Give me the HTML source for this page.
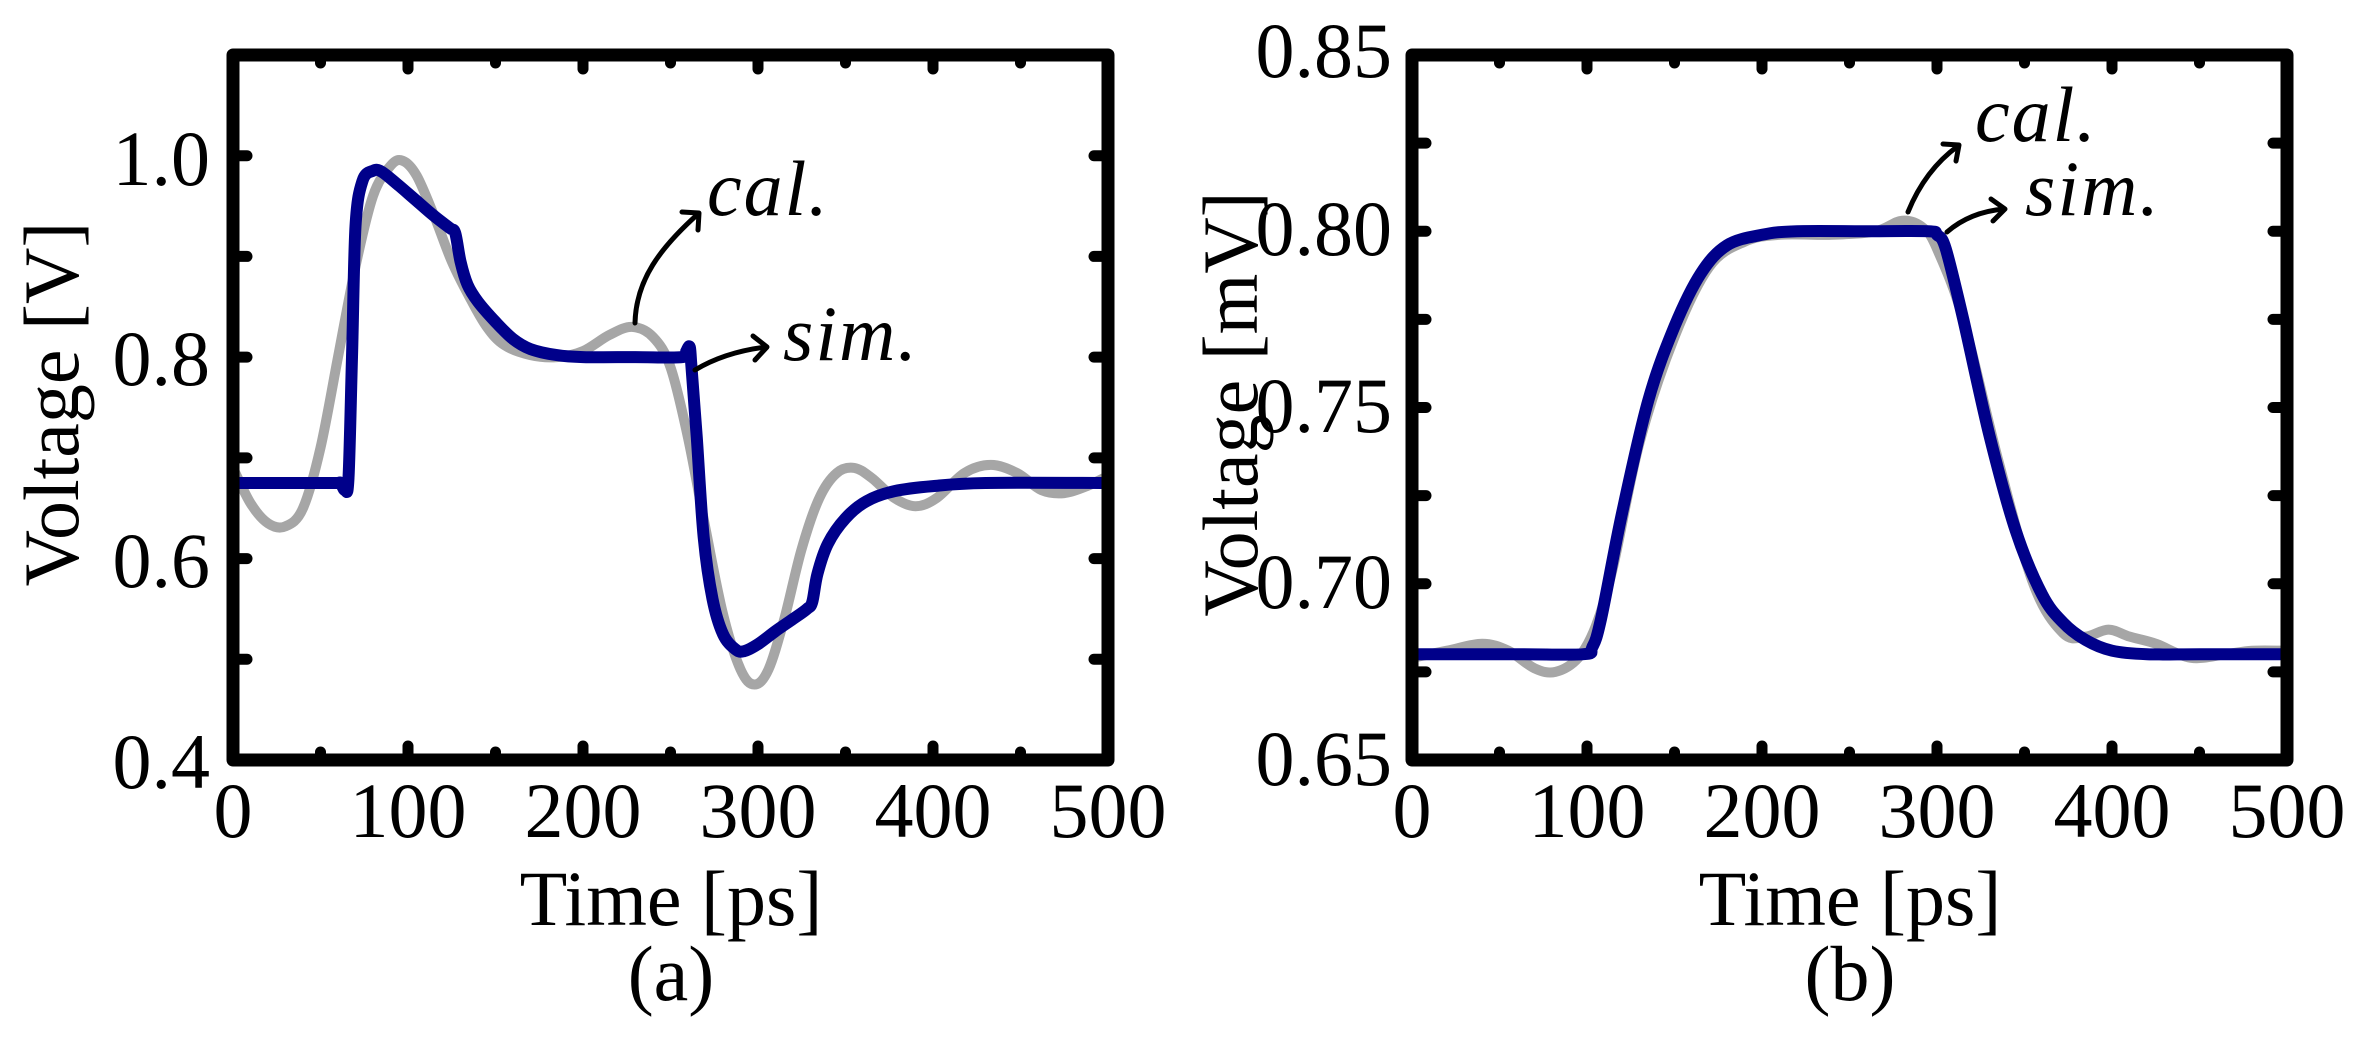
<!DOCTYPE html>
<html><head><meta charset="utf-8">
<style>
html,body{margin:0;padding:0;background:#fff;}
svg{display:block;}
text{font-family:"Liberation Serif","Times New Roman",serif;fill:#000;}
.it{font-family:"Liberation Serif",serif;font-style:italic;}
</style></head>
<body>
<svg id="s" width="2365" height="1052" viewBox="0 0 2365 1052" xmlns="http://www.w3.org/2000/svg">
<g id="g"></g>
<g font-size="78">
<text x="210" y="185" text-anchor="end">1.0</text>
<text x="210" y="385" text-anchor="end">0.8</text>
<text x="210" y="587" text-anchor="end">0.6</text>
<text x="210" y="788" text-anchor="end">0.4</text>
<text x="233" y="837" text-anchor="middle">0</text>
<text x="408" y="837" text-anchor="middle">100</text>
<text x="583" y="837" text-anchor="middle">200</text>
<text x="758" y="837" text-anchor="middle">300</text>
<text x="933" y="837" text-anchor="middle">400</text>
<text x="1108" y="837" text-anchor="middle">500</text>
<text x="671" y="925" text-anchor="middle">Time [ps]</text>
<text x="671" y="1000" text-anchor="middle">(a)</text>
<text transform="translate(78,404) rotate(-90)" text-anchor="middle">Voltage [V]</text>
<text class="it" x="707" y="215" letter-spacing="2">cal.</text>
<text class="it" x="783" y="360" letter-spacing="2">sim.</text>
</g>
<g font-size="78">
<text x="1392" y="77" text-anchor="end">0.85</text>
<text x="1392" y="255" text-anchor="end">0.80</text>
<text x="1392" y="432" text-anchor="end">0.75</text>
<text x="1392" y="608" text-anchor="end">0.70</text>
<text x="1392" y="785" text-anchor="end">0.65</text>
<text x="1412" y="837" text-anchor="middle">0</text>
<text x="1587" y="837" text-anchor="middle">100</text>
<text x="1762" y="837" text-anchor="middle">200</text>
<text x="1937" y="837" text-anchor="middle">300</text>
<text x="2112" y="837" text-anchor="middle">400</text>
<text x="2287" y="837" text-anchor="middle">500</text>
<text x="1850" y="925" text-anchor="middle">Time [ps]</text>
<text x="1850" y="1000" text-anchor="middle">(b)</text>
<text transform="translate(1257,404) rotate(-90)" text-anchor="middle">Voltage [mV]</text>
<text class="it" x="1975" y="141" letter-spacing="2">cal.</text>
<text class="it" x="2025" y="215" letter-spacing="2">sim.</text>
</g>
<g fill="none" stroke="#000" stroke-width="5" stroke-linecap="round" stroke-linejoin="round">
<path d="M635,323 C636,280 660,248 698,214"/>
<path d="M682,212 L699,213 L698,230"/>
<path d="M695,370 Q725,352 766,347"/>
<path d="M753,336 L767,347 L755,360"/>
<path d="M1908,212 Q1925,170 1958,146"/>
<path d="M1943,144 L1959,145 L1956,161"/>
<path d="M1947,232 Q1970,212 2004,209"/>
<path d="M1991,199 L2005,209 L1993,221"/>
</g>
</svg>
<script>
(function(){
var g=document.getElementById('g'),NS='http://www.w3.org/2000/svg';
function el(t,a){var e=document.createElementNS(NS,t);for(var k in a)e.setAttribute(k,a[k]);g.appendChild(e);return e;}
function cr(pts){var d='M'+pts[0][0].toFixed(1)+','+pts[0][1].toFixed(1);
for(var i=0;i<pts.length-1;i++){var p0=pts[i-1]||pts[i],p1=pts[i],p2=pts[i+1],p3=pts[i+2]||p2;
var c1x=p1[0]+(p2[0]-p0[0])/6,c1y=p1[1]+(p2[1]-p0[1])/6,c2x=p2[0]-(p3[0]-p1[0])/6,c2y=p2[1]-(p3[1]-p1[1])/6;
d+=' C'+c1x.toFixed(1)+','+c1y.toFixed(1)+' '+c2x.toFixed(1)+','+c2y.toFixed(1)+' '+p2[0].toFixed(1)+','+p2[1].toFixed(1);}return d;}
function panel(L,T,R,B,vmin,vmax,ystep,cal,sim){
 var W=R-L,H=B-T;
 function X(t){return L+t/500*W;} function Y(v){return B-(v-vmin)/(vmax-vmin)*H;}
 var clip='c'+L;
 var cp=el('clipPath',{id:clip});var r=document.createElementNS(NS,'rect');r.setAttribute('x',L);r.setAttribute('y',T);r.setAttribute('width',W);r.setAttribute('height',H);cp.appendChild(r);
 el('path',{d:cr(cal.map(function(p){return[X(p[0]),Y(p[1])]})),fill:'none',stroke:'#a6a6a6','stroke-width':10,'clip-path':'url(#'+clip+')','stroke-linejoin':'round'});
 el('path',{d:cr(sim.map(function(p){return[X(p[0]),Y(p[1])]})),fill:'none',stroke:'#00008a','stroke-width':12,'clip-path':'url(#'+clip+')','stroke-linejoin':'round'});
 for(var t=50;t<500;t+=50){var x=X(t),h=(t%100==0)?14:8;
  el('line',{x1:x,y1:B,x2:x,y2:B-h,stroke:'#000','stroke-width':11,'stroke-linecap':'round'});
  el('line',{x1:x,y1:T,x2:x,y2:T+h,stroke:'#000','stroke-width':11,'stroke-linecap':'round'});}
 var n=Math.round((vmax-vmin)/ystep);
 for(var i=1;i<n;i++){var y=B-i*H/n,h=14;
  el('line',{x1:L,y1:y,x2:L+h,y2:y,stroke:'#000','stroke-width':11,'stroke-linecap':'round'});
  el('line',{x1:R,y1:y,x2:R-h,y2:y,stroke:'#000','stroke-width':11,'stroke-linecap':'round'});}
 el('rect',{x:L,y:T,width:W,height:H,fill:'none',stroke:'#000','stroke-width':13,'stroke-linejoin':'round'});
}
var calA=[[0,0.69],[10,0.655],[20,0.635],[30,0.632],[40,0.65],[50,0.71],[60,0.8],[70,0.89],[80,0.96],[90,0.99],[97,0.995],[105,0.98],[115,0.94],[125,0.895],[135,0.86],[145,0.83],[155,0.812],[170,0.802],[185,0.8],[200,0.806],[215,0.822],[228,0.83],[240,0.82],[250,0.79],[260,0.72],[270,0.63],[280,0.545],[290,0.49],[298,0.475],[306,0.49],[315,0.54],[325,0.61],[335,0.66],[345,0.685],[355,0.69],[365,0.68],[378,0.66],[390,0.652],[402,0.66],[418,0.685],[433,0.693],[448,0.685],[462,0.668],[475,0.665],[488,0.672],[500,0.682]];
var simA=[[0,0.675],[55,0.675],[61,0.675],[64,0.668],[66,0.68],[68,0.8],[70,0.93],[74,0.975],[80,0.985],[85,0.984],[95,0.97],[105,0.955],[115,0.94],[124,0.928],[127,0.923],[130,0.895],[134,0.872],[140,0.855],[150,0.835],[160,0.818],[170,0.808],[185,0.802],[200,0.8],[230,0.8],[257,0.8],[259,0.806],[261,0.81],[262,0.79],[265,0.72],[269,0.62],[274,0.56],[280,0.525],[287,0.51],[292,0.508],[300,0.515],[310,0.528],[320,0.54],[328,0.55],[331,0.557],[334,0.585],[340,0.615],[350,0.64],[362,0.657],[378,0.667],[400,0.672],[430,0.675],[500,0.675]];
var calB=[[0,0.679],[20,0.681],[40,0.683],[55,0.681],[70,0.676],[82,0.675],[95,0.679],[105,0.688],[115,0.705],[130,0.74],[150,0.77],[170,0.79],[190,0.797],[210,0.799],[240,0.799],[265,0.8],[280,0.803],[292,0.801],[300,0.795],[315,0.775],[335,0.735],[355,0.7],[372,0.686],[385,0.685],[398,0.687],[410,0.685],[425,0.683],[445,0.679],[465,0.68],[480,0.681],[500,0.681]];
var simB=[[0,0.68],[60,0.68],[98,0.68],[103,0.682],[108,0.69],[120,0.72],[135,0.752],[150,0.773],[165,0.788],[180,0.796],[200,0.799],[220,0.8],[260,0.8],[295,0.8],[300,0.799],[305,0.795],[315,0.775],[330,0.742],[345,0.715],[360,0.697],[372,0.689],[385,0.684],[400,0.681],[420,0.68],[450,0.68],[500,0.68]];
panel(233,55,1108,760,0.4,1.1,0.1,calA,simA);
panel(1412,55,2287,760,0.65,0.85,0.025,calB,simB);
})();
</script>
</body></html>
